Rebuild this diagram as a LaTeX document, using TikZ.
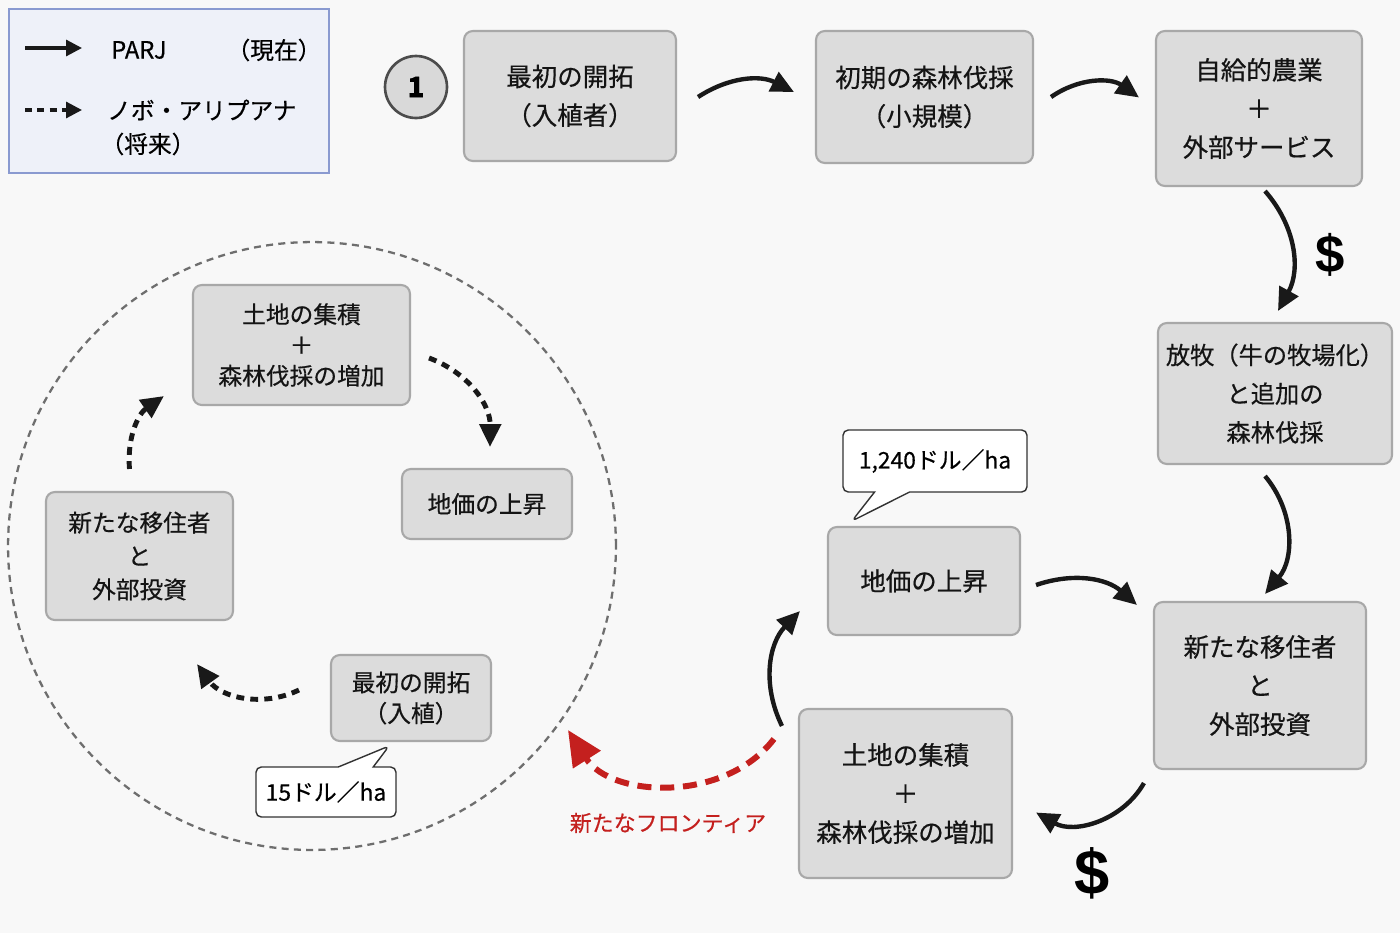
\documentclass[tikz,border=0pt]{standalone}
\usepackage{fontspec}
\setmainfont{Noto Sans CJK JP}[FakeBold=0.5]
\newfontfamily\dollarfont{Liberation Sans}
\usetikzlibrary{arrows.meta,calc,shapes.callouts}

\definecolor{paper}{HTML}{F8F8F8}
\definecolor{boxgray}{HTML}{DCDCDC}
\definecolor{boxline}{HTML}{A8A8A8}
\definecolor{legendfill}{HTML}{EEF1F9}
\definecolor{legendline}{HTML}{8A9AD0}
\definecolor{ringgray}{HTML}{6E6E6E}
\definecolor{frontierred}{HTML}{C4201E}

\begin{document}
\begin{tikzpicture}[x=0.02cm,y=-0.02cm,
  stage/.style={draw=boxline, line width=1.2pt, fill=boxgray, rounded corners=5pt,
    align=center, inner sep=1pt, text=black!92, font=\fontsize{14.5}{22}\selectfont},
  smallstage/.style={stage, font=\fontsize{13.5}{17.5}\selectfont},
  pricetag/.style={rectangle callout, draw=black!80, fill=white, line width=0.8pt,
    rounded corners=3pt, callout pointer width=0.7cm, inner sep=2pt,
    font=\fontsize{13}{15}\selectfont},
  dollar/.style={font=\dollarfont\bfseries\fontsize{30}{30}\selectfont},
  flow/.style={-{Triangle[length=13pt,width=12pt]}, line width=2.5pt, black!90},
  planned/.style={flow, line width=2.8pt, dash pattern=on 4.5pt off 3.5pt},
  frontier/.style={-{Triangle[length=20pt,width=18pt]}, line width=3.4pt,
    frontierred, dash pattern=on 8pt off 5pt}
]
% background and size
\fill[paper] (0,0) rectangle (1400,933);

% legend
\node[draw=legendline, fill=legendfill, line width=1.2pt, minimum width=6.4cm,
  minimum height=3.28cm, anchor=north west] (legend) at (8,8) {};
\coordinate (keyAs) at ($(legend.north west)+(17,40)$);
\coordinate (keyAe) at ($(legend.north west)+(74,40)$);
\coordinate (keyBs) at ($(legend.north west)+(17,102)$);
\coordinate (keyBe) at ($(legend.north west)+(74,102)$);
\draw[flow, -{Triangle[length=9pt,width=9pt]}, line width=1.8pt] (keyAs) -- (keyAe);
\draw[planned, -{Triangle[length=9pt,width=9pt]}, line width=1.8pt, dash pattern=on 4pt off 3pt] (keyBs) -- (keyBe);
\node[anchor=west, font=\fontsize{13.5}{16}\selectfont] (parj) at (105,50) {PARJ};
\node[font=\fontsize{13.5}{16}\selectfont] (now) at (274,50) {（現在）};
\node[anchor=west, font=\fontsize{13.5}{16}\selectfont] (novo) at (101,110) {ノボ・アリプアナ};
\node[font=\fontsize{13.5}{16}\selectfont] (later) at (148,144) {（将来）};

% PARJ cycle
\node[circle, draw=black!70, fill=black!15, line width=1.5pt, minimum size=1.24cm,
  font=\fontsize{16}{16}\selectfont\bfseries] (badge) at (416,87) {1};
\node[stage, minimum width=4.24cm, minimum height=2.6cm] (pioneer) at (570,96) {最初の開拓\\（入植者）};
\node[stage, minimum width=4.34cm, minimum height=2.64cm] (earlycut) at (924.5,97) {初期の森林伐採\\（小規模）};
\node[stage, minimum width=4.12cm, minimum height=3.1cm] (subsist) at (1259,108.5) {自給的農業\\＋\\外部サービス};
\node[stage, minimum width=4.68cm, minimum height=2.82cm, font=\fontsize{13.8}{22}\selectfont] (cattle) at (1275,393.5) {放牧（牛の牧場化）\\と追加の\\森林伐採};
\node[stage, minimum width=4.24cm, minimum height=3.34cm] (newcomers) at (1260,685.5) {新たな移住者\\と\\外部投資};
\node[stage, minimum width=4.26cm, minimum height=3.38cm] (landacc) at (905.5,793.5) {土地の集積\\＋\\森林伐採の増加};
\node[stage, minimum width=3.84cm, minimum height=2.16cm] (landprice) at (924,581) {地価の上昇};
\node[pricetag, minimum width=3.68cm, minimum height=1.24cm,
  callout absolute pointer={($(landprice.north west)+(25,-5)$)}] (priceHigh) at (935,461) {1,240ドル／ha};
\node[dollar] (payA) at (1330,255) {\$};
\node[dollar, font=\dollarfont\bfseries\fontsize{36}{36}\selectfont] (payB) at (1092,873) {\$};

\draw[flow] ($(pioneer.east)+(21,1)$) to[bend left=30] ($(earlycut.west)+(-21,-5)$);
\draw[flow] ($(earlycut.east)+(17,0)$) to[bend left=35] ($(subsist.west)+(-16,-11)$);
\draw[flow] ($(subsist.south)+(6,4)$) to[bend left=35] ($(cattle.north)+(3,-11)$);
\draw[flow] ($(cattle.south)+(-10,11)$) to[bend left=40] ($(newcomers.north)+(5,-7)$);
\draw[flow] ($(newcomers.south west)+(-9,13)$) to[bend left=45] ($(landacc.east)+(23,19)$);
\draw[flow] ($(landacc.north west)+(-16,18)$) to[bend left=35] ($(landprice.south west)+(-27,-25)$);
\draw[flow] ($(landprice.east)+(15,4)$) to[bend left=30] ($(newcomers.north west)+(-16,4)$);

% Novo Aripuana (future)
\node[circle, draw=ringgray, line width=1.3pt, dash pattern=on 4pt off 3pt,
  minimum size=12.16cm] (ring) at (312,546) {};
\node[smallstage, minimum width=4.34cm, minimum height=2.4cm] (ringacc) at (301.5,345) {土地の集積\\＋\\森林伐採の増加};
\node[smallstage, minimum width=3.4cm, minimum height=1.4cm] (ringprice) at (487,504) {地価の上昇};
\node[smallstage, minimum width=3.74cm, minimum height=2.56cm, font=\fontsize{13.5}{19}\selectfont] (ringnew) at (139.5,556) {新たな移住者\\と\\外部投資};
\node[smallstage, minimum width=3.2cm, minimum height=1.72cm] (ringpioneer) at (411,698) {最初の開拓\\（入植）};
\node[pricetag, minimum width=2.8cm, minimum height=1cm,
  callout absolute pointer={($(ringpioneer.south)+(-22,4)$)}] (priceLow) at (326,792) {15ドル／ha};

\draw[planned] ($(ringacc.east)+(18,13)$) to[bend left=35] ($(ringprice.north)+(3,-21)$);
\draw[planned] ($(ringpioneer.west)+(-31,-8)$) to[bend left=40] ($(ringnew.south east)+(-37,43)$);
\draw[planned] ($(ringnew.north)+(-10,-22)$) to[bend left=30] ($(ringacc.south west)+(-28,-10)$);

% new frontier
\draw[frontier] ($(landacc.north west)+(-24,31)$) to[bend left=55] ($(ring.center)+(256,184)$);
\node[text=frontierred, font=\fontsize{12.5}{15}\selectfont] (frontlabel) at (668,823) {新たなフロンティア};
\end{tikzpicture}
\end{document}
